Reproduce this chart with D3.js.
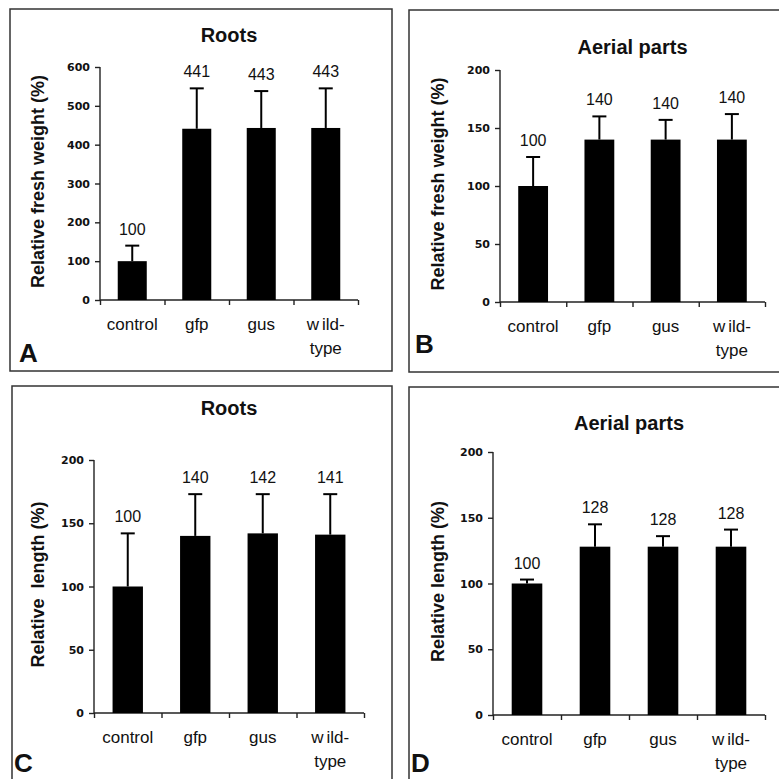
<!DOCTYPE html>
<html>
<head>
<meta charset="utf-8">
<script src="https://cdn.jsdelivr.net/npm/d3@7"></script>
<style>
    body { margin: 0; background: #fff; }
    text { font-family: "Liberation Sans", Arial, sans-serif; fill: #111; }
    .tick text { font-family: "DejaVu Sans", sans-serif; font-weight: bold; font-size: 11px; }
    .ylabel { font-weight: bold; font-size: 18px; white-space: pre; }
    .title { font-weight: bold; font-size: 20px; }
    .letter { font-weight: bold; font-size: 26px; }
    .value { font-size: 16px; }
    .cat { font-size: 17px; }
</style>
</head>
<body>
<div id="chart"></div>
<script>

// categories shared by all four panels
const categories = ["control", "gfp", "gus", "wild-type"];

// A: roots, fresh weight
const rootWeight = [100, 441, 443, 443];
const rootWeightErr = [40, 104, 95, 102];
// B: aerial parts, fresh weight
const aerialWeight = [100, 140, 140, 140];
const aerialWeightErr = [25, 20, 17, 22];
// C: roots, length
const rootLength = [100, 140, 142, 141];
const rootLengthErr = [42, 33, 31, 32];
// D: aerial parts, length
const aerialLength = [100, 128, 128, 128];
const aerialLengthErr = [3, 17, 8, 13];

const ticksRootWeight = [0, 100, 200, 300, 400, 500, 600];
const ticks200 = [0, 50, 100, 150, 200];

const svg = d3.select("#chart").append("svg")
    .attr("width", 779)
    .attr("height", 779);

// panel layout (pixel boxes)
const panels = [
    {letter: "A", title: "Roots", ylabel: "Relative fresh weight (%)", values: rootWeight, err: rootWeightErr,
        ticks: ticksRootWeight, max: 600,
        frame: [10, 9, 392, 371], x0: 100, x1: 358, y0: 300, y1: 67,
        titleY: 42, ylabelX: 38, letterPos: [19, 362]},
    {letter: "B", title: "Aerial parts", ylabel: "Relative fresh weight (%)", values: aerialWeight, err: aerialWeightErr,
        ticks: ticks200, max: 200,
        frame: [409, 10, 800, 372], x0: 500, x1: 765, y0: 302, y1: 70,
        titleY: 54, ylabelX: 438, letterPos: [415, 353]},
    {letter: "C", title: "Roots", ylabel: "Relative  length (%)", values: rootLength, err: rootLengthErr,
        ticks: ticks200, max: 200,
        frame: [12, 386, 392, 800], x0: 94, x1: 364, y0: 713, y1: 460,
        titleY: 415, ylabelX: 38, letterPos: [14, 772]},
    {letter: "D", title: "Aerial parts", ylabel: "Relative length (%)", values: aerialLength, err: aerialLengthErr,
        ticks: ticks200, max: 200,
        frame: [409, 387, 800, 800], x0: 493, x1: 765, y0: 715, y1: 452,
        titleY: 430, ylabelX: 438, letterPos: [411, 772]}
];

panels.forEach(p => drawPanel(p));

function drawPanel(p) {
    let g = svg.append("g");

    // frame
    g.append("rect")
        .attr("x", p.frame[0])
        .attr("y", p.frame[1])
        .attr("width", p.frame[2] - p.frame[0])
        .attr("height", p.frame[3] - p.frame[1])
        .attr("fill", "none")
        .attr("stroke", "#333")
        .attr("stroke-width", 1.5);

    let x = d3.scaleBand()
        .domain(categories)
        .range([p.x0, p.x1])
        .paddingInner(0.55)
        .paddingOuter(0.275);

    let y = d3.scaleLinear()
        .domain([0, p.max])
        .range([p.y0, p.y1]);

    // y axis
    let yAxis = g.append("g")
        .attr("transform", `translate(${p.x0},0)`)
        .call(d3.axisLeft(y).tickValues(p.ticks).tickSize(5).tickPadding(5));

    // x axis: ticks sit between the categories
    let xb = d3.scaleLinear().domain([0, categories.length]).range([p.x0, p.x1]);
    let xAxis = g.append("g")
        .attr("transform", `translate(0,${p.y0})`)
        .call(d3.axisBottom(xb).tickValues(d3.range(categories.length + 1)).tickSize(5).tickFormat(""));

    [yAxis, xAxis].forEach(a => {
        a.select(".domain").attr("stroke", "#222").attr("stroke-width", 1.4);
        a.selectAll(".tick line").attr("stroke", "#222").attr("stroke-width", 1.4);
    });
    xAxis.select(".domain").attr("d", `M${p.x0},0H${p.x1}`);
    yAxis.select(".domain").attr("d", `M0,${p.y0}V${p.y1}`);
    yAxis.selectAll(".tick text").attr("fill", "#111");

    let data = categories.map((c, i) => ({cat: c, v: p.values[i], e: p.err[i]}));

    // error bars (upper only)
    let eb = g.selectAll(".err").data(data).enter().append("g");
    eb.append("line")
        .attr("x1", d => x(d.cat) + x.bandwidth() / 2)
        .attr("x2", d => x(d.cat) + x.bandwidth() / 2)
        .attr("y1", d => y(d.v))
        .attr("y2", d => y(d.v + d.e))
        .attr("stroke", "#000")
        .attr("stroke-width", 2);
    eb.append("line")
        .attr("x1", d => x(d.cat) + x.bandwidth() / 2 - 7)
        .attr("x2", d => x(d.cat) + x.bandwidth() / 2 + 7)
        .attr("y1", d => y(d.v + d.e))
        .attr("y2", d => y(d.v + d.e))
        .attr("stroke", "#000")
        .attr("stroke-width", 2);

    // bars
    g.selectAll(".bar").data(data).enter().append("rect")
        .attr("x", d => x(d.cat))
        .attr("y", d => y(d.v))
        .attr("width", x.bandwidth())
        .attr("height", d => y(0) - y(d.v))
        .attr("fill", "#000");

    // value labels
    g.selectAll(".value").data(data).enter().append("text")
        .attr("class", "value")
        .attr("x", d => x(d.cat) + x.bandwidth() / 2)
        .attr("y", d => y(d.v + d.e) - 11)
        .attr("text-anchor", "middle")
        .text(d => d.v);

    // category labels
    let cl = g.selectAll(".cat").data(categories).enter().append("text")
        .attr("class", "cat")
        .attr("x", d => x(d) + x.bandwidth() / 2)
        .attr("y", p.y0 + 30)
        .attr("text-anchor", "middle");
    cl.each(function (d) {
        let t = d3.select(this);
        if (d === "wild-type") {
            t.append("tspan").text("w");
            t.append("tspan").attr("dx", 3).text("ild-");
            t.append("tspan")
                .attr("x", x(d) + x.bandwidth() / 2)
                .attr("dy", 24)
                .text("type");
        } else {
            t.text(d);
        }
    });

    // title
    g.append("text")
        .attr("class", "title")
        .attr("x", (p.x0 + p.x1) / 2)
        .attr("y", p.titleY)
        .attr("text-anchor", "middle")
        .text(p.title);

    // y label
    g.append("text")
        .attr("class", "ylabel")
        .attr("transform", `translate(${p.ylabelX},${(p.y0 + p.y1) / 2 - 2}) rotate(-90)`)
        .attr("dy", "0.35em")
        .attr("text-anchor", "middle")
        .text(p.ylabel);

    // panel letter
    g.append("text")
        .attr("class", "letter")
        .attr("x", p.letterPos[0])
        .attr("y", p.letterPos[1])
        .text(p.letter);
}

</script>
</body>
</html>
